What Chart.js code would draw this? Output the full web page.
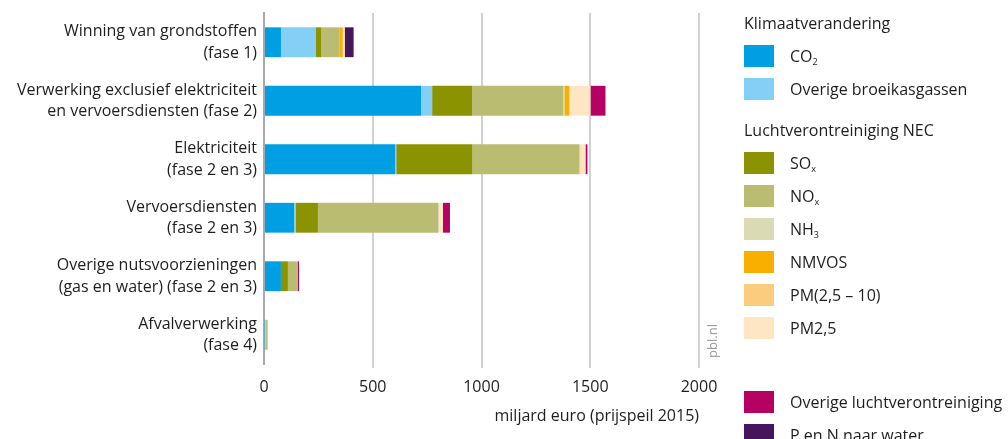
<!DOCTYPE html>
<html>
<head>
<meta charset="utf-8">
<script src="https://cdn.jsdelivr.net/npm/chart.js@4"></script>
<style>
  body { margin: 0; background: #fff; font-family: "Open Sans", sans-serif; color: #1e1e1e; }
  #wrap { position: relative; width: 1008px; height: 439px; overflow: hidden; }
  #legenda { position: absolute; left: 0; top: 0; }
  .kop { position: absolute; left: 744px; font-size: 16px; line-height: 22px; white-space: nowrap; }
  .item { position: absolute; left: 744px; height: 22px; white-space: nowrap; }
  .blok { position: absolute; left: 0; top: 0; width: 30px; height: 22px; }
  .tekst { position: absolute; left: 46px; top: 0; font-size: 16px; line-height: 22px; }
  .tekst sub { font-size: 9px; vertical-align: -3px; line-height: 0; }
  #bron { position: absolute; left: 692px; top: 332px; font-size: 13px; color: #9a9a9a;
          transform: rotate(-90deg); transform-origin: center; width: 40px; text-align: center; }
</style>
</head>
<body>
<div id="wrap">
  <canvas id="grafiek" width="1008" height="439"></canvas>
  <div id="legenda"></div>
  <div id="bron">pbl.nl</div>
</div>
<script>
const categorieen = [
  ["Winning van grondstoffen", "(fase 1)"],
  ["Verwerking exclusief elektriciteit", "en vervoersdiensten (fase 2)"],
  ["Elektriciteit", "(fase 2 en 3)"],
  ["Vervoersdiensten", "(fase 2 en 3)"],
  ["Overige nutsvoorzieningen", "(gas en water) (fase 2 en 3)"],
  ["Afvalverwerking", "(fase 4)"]
];

const co2            = [78, 722, 603, 138, 78, 3];
const overigBroeikas = [161, 51, 5, 9, 0, 5];
const sox            = [23, 184, 350, 101, 32, 0];
const nox            = [86, 419, 492, 552, 46, 6];
const nh3            = [0, 5, 0, 5, 0, 0];
const nmvos          = [14, 23, 0, 0, 0, 2];
const pm25_10        = [0, 0, 5, 0, 0, 2];
const pm25           = [9, 97, 23, 18, 0, 0];
const overigLucht    = [0, 69, 9, 32, 5, 0];
const pEnN           = [41, 0, 0, 0, 0, 0];

const xTicks = [0, 500, 1000, 1500, 2000];

const reeksen = [
  { label: "CO2", html: "CO<sub>2</sub>", data: co2, kleur: "#009fe3" },
  { label: "Overige broeikasgassen", html: "Overige broeikasgassen", data: overigBroeikas, kleur: "#84cff5" },
  { label: "SOx", html: "SO<sub>x</sub>", data: sox, kleur: "#8c9300" },
  { label: "NOx", html: "NO<sub>x</sub>", data: nox, kleur: "#babc71" },
  { label: "NH3", html: "NH<sub>3</sub>", data: nh3, kleur: "#dadab5" },
  { label: "NMVOS", html: "NMVOS", data: nmvos, kleur: "#f8af00" },
  { label: "PM(2,5 – 10)", html: "PM(2,5 – 10)", data: pm25_10, kleur: "#fbcc7d" },
  { label: "PM2,5", html: "PM2,5", data: pm25, kleur: "#fee5c4" },
  { label: "Overige luchtverontreiniging", html: "Overige luchtverontreiniging", data: overigLucht, kleur: "#b70063" },
  { label: "P en N naar water", html: "P en N naar water", data: pEnN, kleur: "#46155c" }
];

// legenda met groepskoppen
const legendaRijen = [
  { kop: "Klimaatverandering" }, 0, 1, { gat: 8 },
  { kop: "Luchtverontreiniging NEC" }, 2, 3, 4, 5, 6, 7, { gat: 41 },
  8, 9
];
const legenda = document.getElementById("legenda");
let y = 12;
legendaRijen.forEach(r => {
  if (typeof r === "number") {
    const s = reeksen[r];
    const el = document.createElement("div");
    el.className = "item";
    el.style.top = y + "px";
    el.innerHTML = `<div class="blok" style="background:${s.kleur}"></div><div class="tekst">${s.html}</div>`;
    legenda.appendChild(el);
    y += 33;
  } else if (r.kop) {
    const el = document.createElement("div");
    el.className = "kop";
    el.style.top = y + "px";
    el.textContent = r.kop;
    legenda.appendChild(el);
    y += 33;
  } else {
    y += r.gat;
  }
});

const lettertype = { family: "'Open Sans', sans-serif", size: 16, lineHeight: 1.35 };

new Chart(document.getElementById("grafiek"), {
  type: "bar",
  data: {
    labels: categorieen,
    datasets: reeksen.map(s => ({
      label: s.label,
      data: s.data,
      backgroundColor: s.kleur,
      borderWidth: 0,
      barPercentage: 0.51,
      categoryPercentage: 1
    }))
  },
  options: {
    indexAxis: "y",
    responsive: false,
    animation: false,
    layout: { padding: { top: 13, right: 309, left: 0, bottom: 0 } },
    scales: {
      x: {
        stacked: true,
        min: 0,
        max: 2000,
        afterBuildTicks: s => { s.ticks = xTicks.map(v => ({ value: v })); },
        afterFit: s => { s.height = 75; },
        ticks: { color: "#1e1e1e", font: lettertype, padding: 9, callback: v => String(v) },
        grid: {
          color: ctx => ctx.tick && ctx.tick.value === 0 ? "rgba(0,0,0,0)" : "#d2d2d2",
          lineWidth: 2,
          tickLength: 4
        },
        border: { display: false },
        title: {
          display: true,
          text: "miljard euro (prijspeil 2015)",
          align: "end",
          color: "#1e1e1e",
          font: lettertype,
          padding: { top: 4, bottom: 12 }
        }
      },
      y: {
        stacked: true,
        afterFit: s => { s.width = 264; s.paddingTop = 0; s.paddingBottom = 0; },
        ticks: { color: "#1e1e1e", font: lettertype, padding: 7 },
        grid: { display: false, drawTicks: false },
        border: { display: true, color: "#a9a9a9", width: 2 }
      }
    },
    plugins: {
      legend: { display: false },
      tooltip: { enabled: true }
    }
  }
});
</script>
</body>
</html>
